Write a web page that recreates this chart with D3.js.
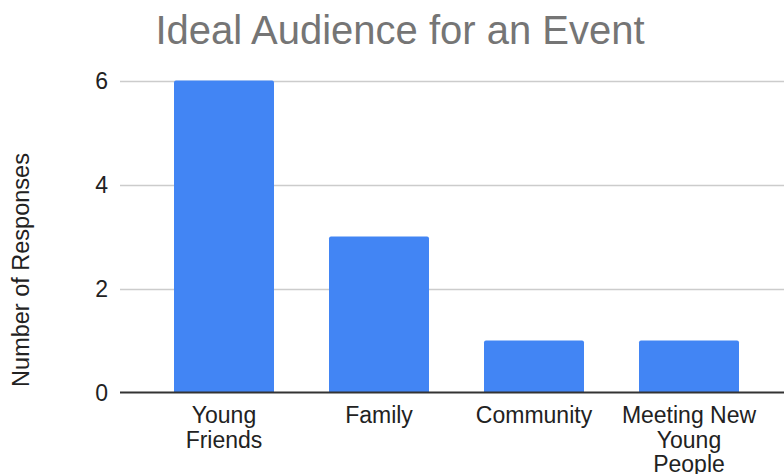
<!DOCTYPE html>
<html><head><meta charset="utf-8">
<script src="https://cdn.jsdelivr.net/npm/d3@7"></script>
<style>
html,body{margin:0;padding:0;background:#fff;}
svg{display:block;font-family:"Liberation Sans",Arial,sans-serif;}
</style></head>
<body><svg id="c" width="784" height="474"></svg>
<script>
const categories = ["Young Friends", "Family", "Community", "Meeting New Young People"];
const responses = [6, 3, 1, 1];
const yTicks = [0, 2, 4, 6];
const title = "Ideal Audience for an Event";
const yLabel = "Number of Responses";

const svg = d3.select("#c");
const plotLeft = 120, plotRight = 784, y0 = 392.5, yTop = 80.5;

const x = d3.scaleBand().domain(categories)
  .range([146.5, 766.5]).paddingInner(55/155).paddingOuter(27.5/155);
const y = d3.scaleLinear().domain([0, 6]).range([y0, yTop]);

// gridlines
svg.append("g").selectAll("line").data(yTicks.filter(d => d !== 0)).join("line")
  .attr("x1", plotLeft).attr("x2", plotRight)
  .attr("y1", d => Math.round(y(d)) + 0.5).attr("y2", d => Math.round(y(d)) + 0.5)
  .attr("stroke", "#cccccc").attr("stroke-width", 1.5);

// y tick labels
svg.append("g").selectAll("text").data(yTicks).join("text")
  .attr("x", 108).attr("y", d => y(d)).attr("dy", "0.35em")
  .attr("text-anchor", "end").attr("font-size", 23).attr("fill", "#222")
  .text(d => d);

// bars
svg.append("g").selectAll("path").data(categories).join("path")
  .attr("fill", "#4285f4")
  .attr("d", (c, i) => {
    const bx = x(c), bw = x.bandwidth(), top = y(responses[i]), bot = y(0), r = 2;
    return `M${bx},${bot}V${top + r}Q${bx},${top} ${bx + r},${top}H${bx + bw - r}Q${bx + bw},${top} ${bx + bw},${top + r}V${bot}Z`;
  });

// baseline
svg.append("line").attr("x1", plotLeft).attr("x2", plotRight)
  .attr("y1", y(0)).attr("y2", y(0)).attr("stroke", "#333").attr("stroke-width", 2);

// x labels with wrapping
const xl = svg.append("g").selectAll("text").data(categories).join("text")
  .attr("x", c => x(c) + x.bandwidth() / 2).attr("y", 423)
  .attr("text-anchor", "middle").attr("font-size", 23).attr("fill", "#222");
xl.each(function(c) {
  const t = d3.select(this);
  const words = c.split(" ");
  const cx = x(c) + x.bandwidth() / 2;
  let lines = [], line = [];
  const tmp = t.append("tspan");
  for (const w of words) {
    const test = line.concat(w).join(" ");
    tmp.text(test);
    if (tmp.node().getComputedTextLength() > 142 && line.length) {
      lines.push(line.join(" ")); line = [w];
    } else line.push(w);
  }
  lines.push(line.join(" "));
  tmp.remove();
  lines.forEach((l, i) => t.append("tspan").attr("x", cx).attr("dy", i ? 24.5 : 0).text(l));
});

// title
svg.append("text").attr("x", 400).attr("y", 44).attr("text-anchor", "middle")
  .attr("font-size", 40).attr("fill", "#757575").text(title);

// y axis label
svg.append("text").attr("transform", "translate(29,270) rotate(-90)")
  .attr("text-anchor", "middle").attr("font-size", 23.5).attr("fill", "#222").text(yLabel);
</script></body></html>
